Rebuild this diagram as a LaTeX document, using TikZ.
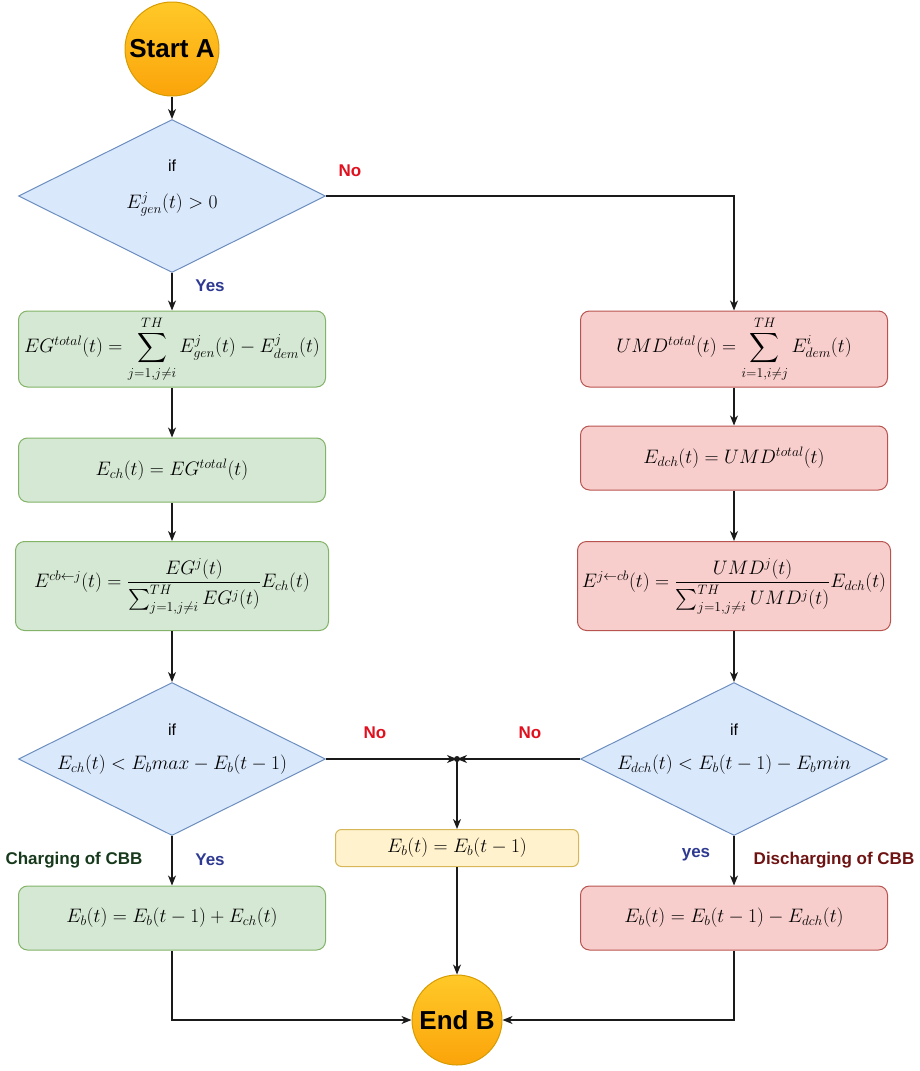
\RequirePackage{fix-cm}
\documentclass[tikz,border=0pt]{standalone}
\usepackage[no-math]{fontspec}
\setmainfont{Liberation Sans}
\usepackage{amsmath}
\usetikzlibrary{positioning,arrows.meta,shapes.geometric}
\definecolor{linec}{HTML}{1A1A1A}
\definecolor{decfill}{HTML}{DAE8FC}
\definecolor{decline}{HTML}{6C8EBF}
\definecolor{gfill}{HTML}{D5E8D4}
\definecolor{gline}{HTML}{82B366}
\definecolor{rfill}{HTML}{F8CECC}
\definecolor{rline}{HTML}{B85450}
\definecolor{yfill}{HTML}{FFF2CC}
\definecolor{yline}{HTML}{D6B656}
\definecolor{termtop}{HTML}{FFC928}
\definecolor{termbot}{HTML}{FBA40A}
\definecolor{termline}{HTML}{D79B00}
\definecolor{nored}{HTML}{E0101E}
\definecolor{yesblue}{HTML}{2E3A92}
\definecolor{chgreen}{HTML}{183A1C}
\definecolor{dchred}{HTML}{6E1212}

\begin{document}
\begin{tikzpicture}[x=1pt,y=-1pt,
  >={Stealth[length=10pt,width=8pt,inset=3pt]},
  flow/.style={->,draw=linec,line width=1.2pt},
  term/.style={circle,draw=termline,line width=1pt,top color=termtop,bottom color=termbot,inner sep=0pt,font=\fontsize{26}{30}\selectfont\bfseries},
  decision/.style={diamond,draw=decline,fill=decfill,line width=1pt,minimum width=307pt,minimum height=153pt,inner sep=0pt},
  iftxt/.style={font=\fontsize{16}{19}\selectfont},
  eqtxt/.style={font=\fontsize{19.5}{23}\selectfont},
  gbox/.style={rounded corners=9pt,draw=gline,fill=gfill,line width=1pt,minimum width=307pt,font=\fontsize{19.5}{23}\selectfont},
  rbox/.style={rounded corners=9pt,draw=rline,fill=rfill,line width=1pt,minimum width=307pt,font=\fontsize{19.5}{23}\selectfont},
  ybox/.style={rounded corners=6pt,draw=yline,fill=yfill,line width=1pt,minimum width=243pt,minimum height=37pt,font=\fontsize{19.5}{23}\selectfont},
  lbl/.style={font=\fontsize{17}{20}\selectfont\bfseries}]
\useasboundingbox (0,0) rectangle (920,1071);
% start and first test
\node[term,minimum size=94pt] (start) at (172,49) {Start A};
\node[decision] (d1) at (172,196) {};
\node[iftxt] (d1if) at (172,166) {if};
\node[eqtxt] (d1eq) at (172,204) {$E^{j}_{gen}(t) > 0$};
% charging side
\node[gbox,minimum height=76pt] (g1) at (172,349) {$EG^{total}(t) = \displaystyle\sum_{j=1,j\neq i}^{TH} E^{j}_{gen}(t) - E^{j}_{dem}(t)$};
\node[gbox,minimum height=64pt] (g2) at (172,470) {$E_{ch}(t) = EG^{total}(t)$};
\node[gbox,minimum width=313pt,minimum height=89pt] (g3) at (172,586) {$E^{cb\leftarrow j}(t) = \dfrac{EG^{j}(t)}{\sum_{j=1,j\neq i}^{TH} EG^{j}(t)} E_{ch}(t)$};
\node[decision] (d2) at (172,759) {};
\node[iftxt] (d2if) at (172,730) {if};
\node[eqtxt] (d2eq) at (172,765) {$E_{ch}(t) < E_{b}max - E_{b}(t-1)$};
\node[gbox,minimum height=64pt] (g4) at (172,918) {$E_{b}(t) = E_{b}(t-1) + E_{ch}(t)$};
% discharging side
\node[rbox,minimum height=76pt] (r1) at (734,349) {$UMD^{total}(t) = \displaystyle\sum_{i=1,i\neq j}^{TH} E^{i}_{dem}(t)$};
\node[rbox,minimum height=64pt] (r2) at (734,458) {$E_{dch}(t) = UMD^{total}(t)$};
\node[rbox,minimum width=313pt,minimum height=89pt] (r3) at (734,586) {$E^{j\leftarrow cb}(t) = \dfrac{UMD^{j}(t)}{\sum_{j=1,j\neq i}^{TH} UMD^{j}(t)} E_{dch}(t)$};
\node[decision] (d3) at (734,759) {};
\node[iftxt] (d3if) at (734,730) {if};
\node[eqtxt] (d3eq) at (734,765) {$E_{dch}(t) < E_{b}(t-1) - E_{b}min$};
\node[rbox,minimum height=64pt] (r4) at (734,918) {$E_{b}(t) = E_{b}(t-1) - E_{dch}(t)$};
% no change and end
\node[circle,fill=linec,inner sep=0pt,minimum size=6pt] (merge) at (457,759) {};
\node[ybox] (y1) at (457,848) {$E_{b}(t) = E_{b}(t-1)$};
\node[term,minimum size=90pt] (end) at (457,1020) {End B};
% labels
\node[lbl,text=nored] (no1) at (350,171) {No};
\node[lbl,text=yesblue] (yes1) at (210,286) {Yes};
\node[lbl,text=nored] (no2) at (375,733) {No};
\node[lbl,text=nored] (no3) at (530,733) {No};
\node[lbl,text=yesblue] (yes2) at (210,860) {Yes};
\node[lbl,text=yesblue] (yes3) at (696,855) {yes};
\node[lbl,text=chgreen] (chg) at (74,860) {Charging of CBB};
\node[lbl,text=dchred] (dchg) at (834,860) {Discharging of CBB};
% connectors
\draw[flow] (start) -- (d1);
\draw[flow] (d1) -- (g1);
\draw[flow] (d1.east) -| (r1.north);
\draw[flow] (g1) -- (g2);
\draw[flow] (g2) -- (g3);
\draw[flow] (g3) -- (d2);
\draw[flow] (d2) -- (g4);
\draw[flow] (r1) -- (r2);
\draw[flow] (r2) -- (r3);
\draw[flow] (r3) -- (d3);
\draw[flow] (d3) -- (r4);
\draw[flow] (d2.east) -- (merge.center);
\draw[flow] (d3.west) -- (merge.center);
\draw[flow] (merge.center) -- (y1);
\draw[flow] (y1) -- (end);
\draw[flow] (g4.south) |- (end.west);
\draw[flow] (r4.south) |- (end.east);
\end{tikzpicture}
\end{document}
